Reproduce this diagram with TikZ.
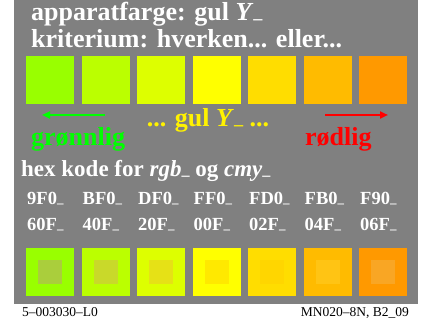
\documentclass[tikz,border=0pt]{standalone}
\usepackage{fontspec}
\setmainfont{Liberation Serif}
\usepackage{tikz}
\usepackage{xcolor}
\usetikzlibrary{arrows.meta}

\definecolor{bggray}{HTML}{808080}
\definecolor{outer1}{HTML}{99FF00}
\definecolor{outer2}{HTML}{BBFF00}
\definecolor{outer3}{HTML}{DDFF00}
\definecolor{outer4}{HTML}{FFFF00}
\definecolor{outer5}{HTML}{FFDD00}
\definecolor{outer6}{HTML}{FFBB00}
\definecolor{outer7}{HTML}{FF9900}
\definecolor{inner1}{HTML}{AACE3C}
\definecolor{inner2}{HTML}{C9D92A}
\definecolor{inner3}{HTML}{E6E116}
\definecolor{inner4}{HTML}{FFE900}
\definecolor{inner5}{HTML}{FFD600}
\definecolor{inner6}{HTML}{FFC414}
\definecolor{inner7}{HTML}{F9A624}
\definecolor{lgreen}{HTML}{00FF00}

\newcommand{\lowdash}{\raisebox{-0.14em}[0pt][0pt]{\scalebox{0.7}{--}}}

\tikzset{
  txt/.style={anchor=base west, inner sep=0pt, font=\bfseries},
  bigtxt/.style={txt, font=\fontsize{26}{26}\selectfont\bfseries},
  midtxt/.style={txt, font=\fontsize{23}{23}\selectfont\bfseries},
  hextxt/.style={txt, font=\fontsize{18.5}{18.5}\selectfont\bfseries, text=white},
  foottxt/.style={inner sep=0pt, font=\fontsize{13.5}{13.5}\selectfont},
  arr/.style={line width=2pt, -{Triangle[length=8pt,width=7pt]}}
}

\begin{document}
\begin{tikzpicture}[x=1pt,y=-1pt]
        \useasboundingbox (0,0) rectangle (424,331);
        \fill[bggray] (14,0) rectangle (418,304);

        \node[bigtxt, text=white] (title) at (31,21) {apparatfarge: gul \textit{Y}\lowdash};
        \node[bigtxt, text=white] (crit) at (31,48) {kriterium: hverken... eller...};

        \foreach \n in {1,...,7} {
            \pgfmathsetmacro{\x}{26 + 55.5*(\n-1)}
            \fill[outer\n] ({\x},56)
              -- ++(48,0)
              -- ++(0,48)
              -- ++(-48,0)
              -- cycle;
            \fill[outer\n] ({\x},248)
              -- ++(48,0)
              -- ++(0,48)
              -- ++(-48,0)
              -- cycle;
            \fill[inner\n] ({\x+12},260)
              -- ++(24,0)
              -- ++(0,24)
              -- ++(-24,0)
              -- cycle;
        };

        \node[bigtxt, text=yellow, anchor=base] (mid) at (208,127) {... gul \textit{Y}\lowdash{} ...};
        \node[bigtxt, text=lgreen] (green) at (31,146) {grønnlig};
        \node[bigtxt, text=red] (red) at (305,146) {rødlig};

        \coordinate (gtail) at (105,115);
        \coordinate (ghead) at (42,115);
        \coordinate (rtail) at (325,115);
        \coordinate (rhead) at (388,115);
        \draw[arr, lgreen] (gtail) -- (ghead);
        \draw[arr, red] (rtail) -- (rhead);

        \node[midtxt, text=white] (hex) at (21,177) {hex kode for \textit{rgb}\lowdash{} og \textit{cmy}\lowdash};

        \foreach \n / \rgb / \cmy in {1/9F0/60F,2/BF0/40F,3/DF0/20F,4/FF0/00F,5/FD0/02F,6/FB0/04F,7/F90/06F} {
            \pgfmathsetmacro{\x}{27 + 55.5*(\n-1)}
            \node[hextxt] (rgb\n) at ({\x},205) {\rgb\lowdash};
            \node[hextxt] (cmy\n) at ({\x},231) {\cmy\lowdash};
        };

        \node[foottxt, anchor=base west] (codeL) at (22,317) {5--003030--L0};
        \node[foottxt, anchor=base east] (codeR) at (409,317) {MN020--8N, B2\_09};
    \end{tikzpicture}
\end{document}
